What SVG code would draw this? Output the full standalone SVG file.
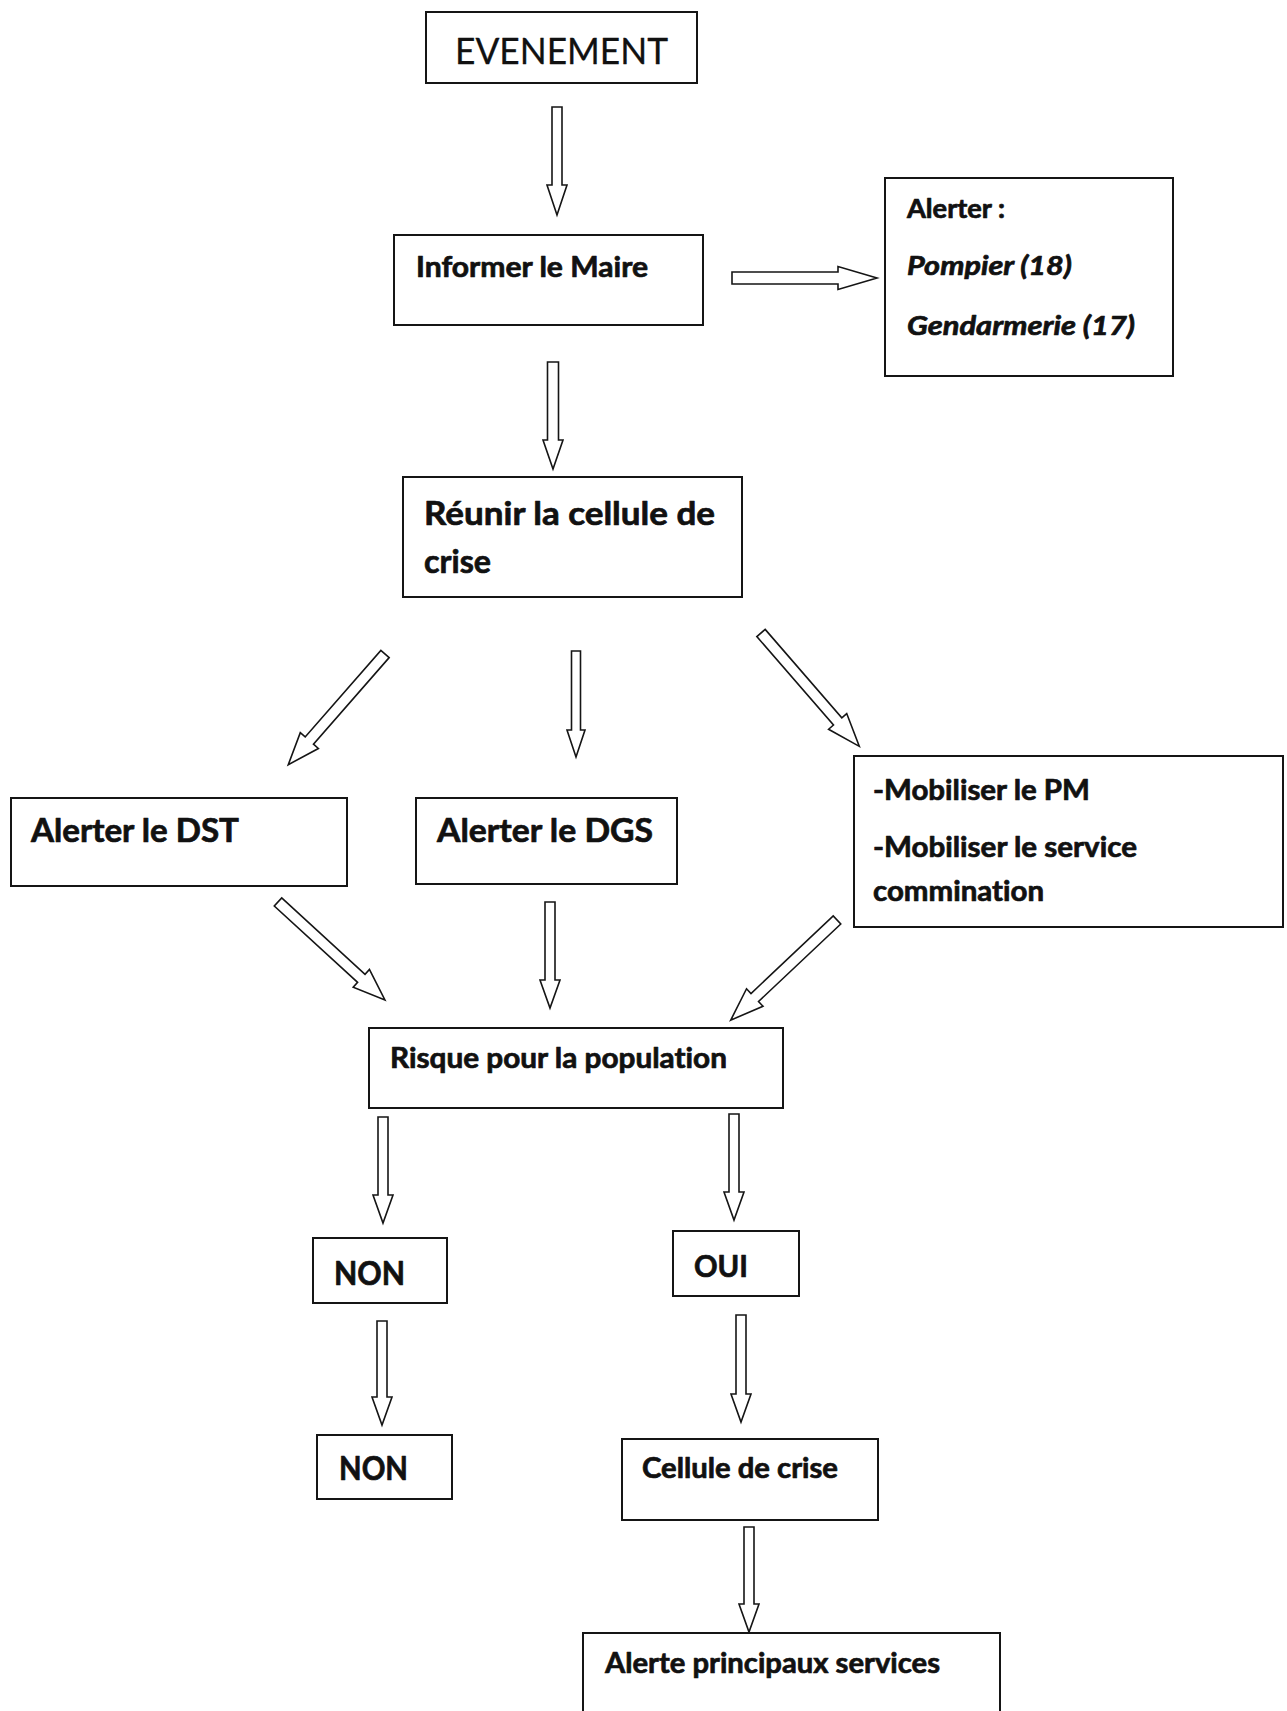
<svg xmlns="http://www.w3.org/2000/svg" width="1287" height="1711" viewBox="0 0 1287 1711">
<style>
.box{fill:#fff;stroke:#151515;stroke-width:2}
.arr{fill:#fff;stroke:#151515;stroke-width:1.6;stroke-linejoin:miter}
.t{font-family:Lato,"Liberation Sans",sans-serif;font-weight:bold;fill:#111;stroke:#111;stroke-width:0.7;stroke-linejoin:round;font-variant-ligatures:none;font-feature-settings:"liga" 0,"dlig" 0}
.r{font-weight:normal;stroke-width:0.3}
.i{font-style:italic}
</style>
<rect width="1287" height="1711" fill="#fff"/>
<g id="connectors">
<path class="arr" d="M0,-5 H78 V-10 L108,0 L78,10 V5 H0 Z" transform="translate(557,107) rotate(90)"/>
<path class="arr" d="M0,-6 H106 V-11.5 L145,0 L106,11.5 V6 H0 Z" transform="translate(732,278)"/>
<path class="arr" d="M0,-5.5 H78 V-10 L107,0 L78,10 V5.5 H0 Z" transform="translate(553,362) rotate(90)"/>
<path class="arr" d="M0,-5.5 H115 V-12 L147,0 L115,12 V5.5 H0 Z" transform="translate(385,654) rotate(131.15)"/>
<path class="arr" d="M0,-4.5 H79 V-9 L106,0 L79,9 V4.5 H0 Z" transform="translate(576,651) rotate(90)"/>
<path class="arr" d="M0,-5.5 H117 V-12 L150,0 L117,12 V5.5 H0 Z" transform="translate(761,633) rotate(49.07)"/>
<path class="arr" d="M0,-5.5 H113 V-12 L145,0 L113,12 V5.5 H0 Z" transform="translate(278,902) rotate(42.5)"/>
<path class="arr" d="M0,-5 H78 V-10 L106,0 L78,10 V5 H0 Z" transform="translate(550,902) rotate(90)"/>
<path class="arr" d="M0,-5.5 H113 V-12 L146,0 L113,12 V5.5 H0 Z" transform="translate(837,920) rotate(136.7)"/>
<path class="arr" d="M0,-5 H78 V-10 L106,0 L78,10 V5 H0 Z" transform="translate(383,1117) rotate(90)"/>
<path class="arr" d="M0,-5 H78 V-10 L106,0 L78,10 V5 H0 Z" transform="translate(734,1114) rotate(90)"/>
<path class="arr" d="M0,-5 H76 V-10 L104,0 L76,10 V5 H0 Z" transform="translate(382,1321) rotate(90)"/>
<path class="arr" d="M0,-5 H79 V-10 L107,0 L79,10 V5 H0 Z" transform="translate(741,1315) rotate(90)"/>
<path class="arr" d="M0,-5 H77 V-10 L105,0 L77,10 V5 H0 Z" transform="translate(749,1527) rotate(90)"/>
</g>
<g id="evenement">
<rect class="box" x="426" y="12" width="271" height="71"/>
<text class="t r" x="455" y="64" font-size="37" textLength="213" lengthAdjust="spacingAndGlyphs">EVENEMENT</text>
</g>
<g id="informer">
<rect class="box" x="394" y="235" width="309" height="90"/>
<text class="t" x="416" y="277" font-size="28.5" textLength="232" lengthAdjust="spacingAndGlyphs">Informer le Maire</text>
</g>
<g id="alerter">
<rect class="box" x="885" y="178" width="288" height="198"/>
<text class="t" x="907" y="218" font-size="26" textLength="98" lengthAdjust="spacingAndGlyphs">Alerter :</text>
<text class="t i" x="907" y="275" font-size="27" textLength="165" lengthAdjust="spacingAndGlyphs">Pompier (18)</text>
<text class="t i" x="907" y="335" font-size="27" textLength="228" lengthAdjust="spacingAndGlyphs">Gendarmerie (17)</text>
</g>
<g id="reunir">
<rect class="box" x="403" y="477" width="339" height="120"/>
<text class="t" x="424" y="525" font-size="33" textLength="291" lengthAdjust="spacingAndGlyphs">Réunir la cellule de</text>
<text class="t" x="424" y="573" font-size="33" textLength="67" lengthAdjust="spacingAndGlyphs">crise</text>
</g>
<g id="dst">
<rect class="box" x="11" y="798" width="336" height="88"/>
<text class="t" x="31" y="842" font-size="33" textLength="208" lengthAdjust="spacingAndGlyphs">Alerter le DST</text>
</g>
<g id="dgs">
<rect class="box" x="416" y="798" width="261" height="86"/>
<text class="t" x="437" y="842" font-size="33" textLength="216" lengthAdjust="spacingAndGlyphs">Alerter le DGS</text>
</g>
<g id="mobiliser">
<rect class="box" x="854" y="756" width="429" height="171"/>
<text class="t" x="873" y="800" font-size="28" textLength="217" lengthAdjust="spacingAndGlyphs">-Mobiliser le PM</text>
<text class="t" x="873" y="857" font-size="28" textLength="264" lengthAdjust="spacingAndGlyphs">-Mobiliser le service</text>
<text class="t" x="873" y="901" font-size="28" textLength="171" lengthAdjust="spacingAndGlyphs">commination</text>
</g>
<g id="risque">
<rect class="box" x="369" y="1028" width="414" height="80"/>
<text class="t" x="390" y="1068" font-size="28" textLength="337" lengthAdjust="spacingAndGlyphs">Risque pour la population</text>
</g>
<g id="non1">
<rect class="box" x="313" y="1238" width="134" height="65"/>
<text class="t" x="334" y="1285" font-size="32" textLength="71" lengthAdjust="spacingAndGlyphs">NON</text>
</g>
<g id="oui">
<rect class="box" x="673" y="1231" width="126" height="65"/>
<text class="t" x="694" y="1277" font-size="31" textLength="54" lengthAdjust="spacingAndGlyphs">OUI</text>
</g>
<g id="non2">
<rect class="box" x="317" y="1435" width="135" height="64"/>
<text class="t" x="339" y="1480" font-size="32" textLength="69" lengthAdjust="spacingAndGlyphs">NON</text>
</g>
<g id="cellule">
<rect class="box" x="622" y="1439" width="256" height="81"/>
<text class="t" x="642" y="1478" font-size="28" textLength="196" lengthAdjust="spacingAndGlyphs">Cellule de crise</text>
</g>
<g id="alerte">
<rect class="box" x="583" y="1633" width="417" height="90"/>
<text class="t" x="605" y="1673" font-size="28" textLength="335" lengthAdjust="spacingAndGlyphs">Alerte principaux services</text>
</g>
</svg>
